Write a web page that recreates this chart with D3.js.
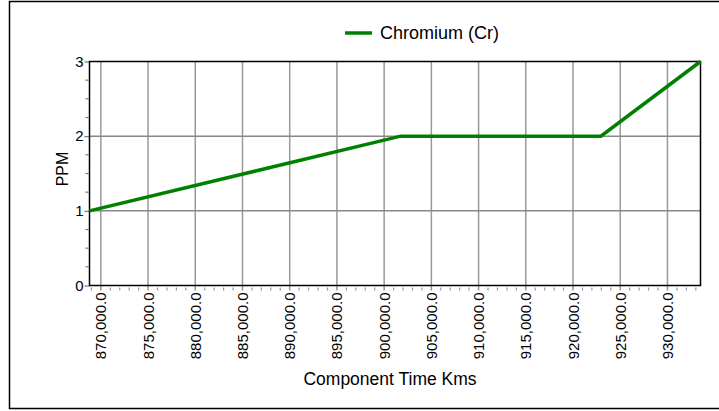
<!DOCTYPE html>
<meta charset="utf-8">
<script src="https://d3js.org/d3.v7.min.js"></script>
<style>
  body { margin: 0; background: #fff; }
  text { font-family: "Liberation Sans", Arial, sans-serif; fill: #000; }
</style>
<svg id="chart" width="719" height="411"></svg>
<script>
  // data
  var kms = [868800, 901750, 922950, 933500];
  var ppm = [1, 2, 2, 3];
  var seriesName = "Chromium (Cr)";
  var xTicks = [870000, 875000, 880000, 885000, 890000, 895000, 900000, 905000, 910000, 915000, 920000, 925000, 930000];
  var yTicks = [0, 1, 2, 3];

  var svg = d3.select("#chart");
  var margin = { left: 89.5, right: 18.5, top: 61.5, bottom: 125.5 };
  var width = 719, height = 411;

  // outer frame
  svg.append("path")
    .attr("d", "M725,1.5 H9.5 V408.5 H725")
    .attr("fill", "none")
    .attr("stroke", "#000")
    .attr("stroke-width", 1.5);

  var x = d3.scaleLinear()
    .domain(d3.extent(kms))
    .range([margin.left, width - margin.right]);
  var y = d3.scaleLinear()
    .domain([0, 3])
    .range([height - margin.bottom, margin.top]);

  var fmt = d3.format(",.1f");

  // grid
  svg.append("g")
    .selectAll("line")
    .data(xTicks)
    .enter().append("line")
    .attr("x1", function (d) { return x(d); })
    .attr("x2", function (d) { return x(d); })
    .attr("y1", y(3))
    .attr("y2", y(0) + 5)
    .attr("stroke", "#999")
    .attr("stroke-width", 1.5);

  svg.append("g")
    .selectAll("line")
    .data([1, 2])
    .enter().append("line")
    .attr("x1", x.range()[0])
    .attr("x2", x.range()[1])
    .attr("y1", function (d) { return y(d); })
    .attr("y2", function (d) { return y(d); })
    .attr("stroke", "#888")
    .attr("stroke-width", 1.5);

  // minor ticks on x
  var minorX = d3.range(869000, 934000, 1000).filter(function (d) { return d % 5000 != 0; });
  svg.append("g")
    .selectAll("line")
    .data(minorX)
    .enter().append("line")
    .attr("x1", function (d) { return x(d); })
    .attr("x2", function (d) { return x(d); })
    .attr("y1", y(0) + 2)
    .attr("y2", y(0) + 5)
    .attr("stroke", "#999")
    .attr("stroke-width", 1.2);

  // minor ticks on y
  var minorY = d3.range(0.25, 3, 0.25).filter(function (d) { return d % 1 != 0; });
  svg.append("g")
    .selectAll("line")
    .data(minorY)
    .enter().append("line")
    .attr("x1", x.range()[0] - 4)
    .attr("x2", x.range()[0] - 1)
    .attr("y1", function (d) { return y(d); })
    .attr("y2", function (d) { return y(d); })
    .attr("stroke", "#777")
    .attr("stroke-width", 1.2);

  // y axis
  var yAxis = svg.append("g")
    .attr("transform", "translate(" + margin.left + ",0)")
    .call(d3.axisLeft(y).tickValues(yTicks).tickFormat(d3.format("d")).tickSize(5).tickPadding(1));
  yAxis.select(".domain").remove();
  yAxis.selectAll("line").attr("stroke", "#777").attr("stroke-width", 1.2);
  yAxis.selectAll("text").style("font-size", "15px").style("font-family", "Liberation Sans, Arial, sans-serif");

  // x tick labels
  svg.append("g")
    .selectAll("text")
    .data(xTicks)
    .enter().append("text")
    .attr("transform", function (d) { return "translate(" + (x(d) + 5.5) + "," + (y(0) + 7) + ") rotate(-90)"; })
    .attr("text-anchor", "end")
    .style("font-size", "15px")
    .text(function (d) { return fmt(d); });

  // plot frame
  svg.append("rect")
    .attr("x", x.range()[0])
    .attr("y", y(3))
    .attr("width", x.range()[1] - x.range()[0])
    .attr("height", y(0) - y(3))
    .attr("fill", "none")
    .attr("stroke", "#000")
    .attr("stroke-width", 1.5);

  // series
  var pts = kms.map(function (k, i) { return [k, ppm[i]]; });
  svg.append("path")
    .datum(pts)
    .attr("fill", "none")
    .attr("stroke", "#008000")
    .attr("stroke-width", 3.5)
    .attr("d", d3.line().x(function (d) { return x(d[0]); }).y(function (d) { return y(d[1]); }));

  // axis titles
  svg.append("text")
    .attr("x", 390)
    .attr("y", 385)
    .attr("text-anchor", "middle")
    .style("font-size", "17.5px")
    .text("Component Time Kms");

  svg.append("text")
    .attr("transform", "translate(68,169) rotate(-90)")
    .attr("text-anchor", "middle")
    .style("font-size", "16px")
    .text("PPM");

  // legend
  svg.append("line")
    .attr("x1", 345).attr("x2", 372)
    .attr("y1", 33).attr("y2", 33)
    .attr("stroke", "#008000")
    .attr("stroke-width", 3.5);
  svg.append("text")
    .attr("x", 380)
    .attr("y", 39)
    .style("font-size", "18px")
    .text(seriesName);
</script>
